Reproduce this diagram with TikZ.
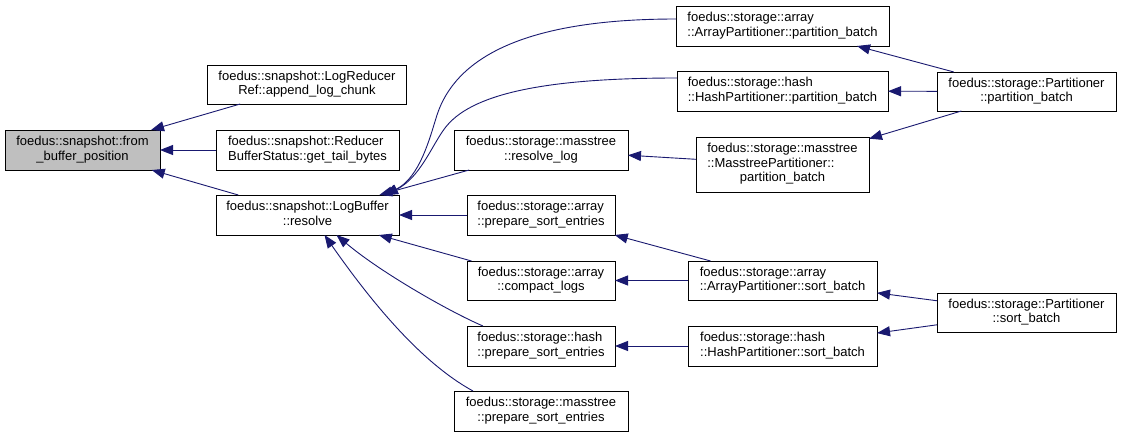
\documentclass[tikz,border=0pt]{standalone}
\usepackage{fontspec}
\setmainfont{Liberation Sans}
\usetikzlibrary{arrows.meta}
\definecolor{edgeblue}{HTML}{191970}
\definecolor{nodegray}{HTML}{BFBFBF}
\newcommand\dltwo[2]{\begin{tabular}{@{}l@{}}#1\\\multicolumn{1}{@{}c@{}}{#2}\end{tabular}}
\newcommand\dlthree[3]{\begin{tabular}{@{}l@{}}#1\\#2\\\multicolumn{1}{@{}c@{}}{#3}\end{tabular}}
\tikzset{
  fbox/.style={draw=black, line width=1pt, fill=white, inner sep=0pt, outer sep=0pt,
    font=\fontsize{13}{14.5}\selectfont, text=black},
  edge/.style={draw=edgeblue, line width=0.9pt, -{Triangle[length=13pt,width=10pt]}, fill=none},
}
\begin{document}
\begin{tikzpicture}[x=1pt,y=-1pt]
\useasboundingbox[fill=white] (0,0) rectangle (1121,437);
% column 0
\node[fbox, fill=nodegray, minimum width=155pt, minimum height=40pt] (A) at (82.5,150) {\dltwo{foedus::snapshot::from}{\_buffer\_position}};
% column 1
\node[fbox, minimum width=199pt, minimum height=39pt] (B1) at (307,84.5) {\dltwo{foedus::snapshot::LogReducer}{Ref::append\_log\_chunk}};
\node[fbox, minimum width=183pt, minimum height=40pt] (B2) at (307.5,150) {\dltwo{foedus::snapshot::Reducer}{BufferStatus::get\_tail\_bytes}};
\node[fbox, minimum width=183pt, minimum height=40pt] (B3) at (307.5,215) {\dltwo{foedus::snapshot::LogBuffer}{::resolve}};
% column 2
\node[fbox, minimum width=174pt, minimum height=40pt] (RL) at (541,150) {\dltwo{foedus::storage::masstree}{::resolve\_log}};
\node[fbox, minimum width=148pt, minimum height=40pt] (APS) at (541,215) {\dltwo{foedus::storage::array}{::prepare\_sort\_entries}};
\node[fbox, minimum width=148pt, minimum height=39pt] (CL) at (541,280.5) {\dltwo{foedus::storage::array}{::compact\_logs}};
\node[fbox, minimum width=148pt, minimum height=40pt] (HPS) at (541,346) {\dltwo{foedus::storage::hash}{::prepare\_sort\_entries}};
\node[fbox, minimum width=174pt, minimum height=40pt] (MPS) at (541,411) {\dltwo{foedus::storage::masstree}{::prepare\_sort\_entries}};
% column 3
\node[fbox, minimum width=213pt, minimum height=40pt] (C1) at (782.5,26) {\dltwo{foedus::storage::array}{::ArrayPartitioner::partition\_batch}};
\node[fbox, minimum width=211pt, minimum height=40pt] (C2) at (782.5,91) {\dltwo{foedus::storage::hash}{::HashPartitioner::partition\_batch}};
\node[fbox, minimum width=173pt, minimum height=55pt] (MP) at (782.5,164.5) {\dlthree{foedus::storage::masstree}{::MasstreePartitioner::}{partition\_batch}};
\node[fbox, minimum width=189pt, minimum height=39pt] (ASB) at (782.5,280.5) {\dltwo{foedus::storage::array}{::ArrayPartitioner::sort\_batch}};
\node[fbox, minimum width=189pt, minimum height=40pt] (HSB) at (782.5,346) {\dltwo{foedus::storage::hash}{::HashPartitioner::sort\_batch}};
% column 4
\node[fbox, minimum width=179pt, minimum height=39pt] (PP) at (1026.5,91.5) {\dltwo{foedus::storage::Partitioner}{::partition\_batch}};
\node[fbox, minimum width=179pt, minimum height=39pt] (PS) at (1026.5,312.5) {\dltwo{foedus::storage::Partitioner}{::sort\_batch}};
% edges
\draw[edge] (B1) -- (A);
\draw[edge] (B2) -- (A);
\draw[edge] (B3) -- (A);
\draw[edge] ([yshift=7pt]C1.west) .. controls (520,19) and (455,60) .. (437,115) .. controls (430,137) and (420,178) .. ([xshift=-15pt]B3.north east);
\draw[edge] ([yshift=13pt]C2.west) .. controls (540,78) and (470,95) .. (445,128) .. controls (432,145) and (420,178) .. ([xshift=-14pt]B3.north east);
\draw[edge] (RL) -- (B3);
\draw[edge] (APS) -- (B3);
\draw[edge] (CL) -- (B3);
\draw[edge] ([xshift=16pt]HPS.north west) .. controls (450,312) and (380,272) .. ([xshift=29pt]B3.south);
\draw[edge] ([xshift=19pt]MPS.north west) .. controls (420,362) and (370,300) .. ([xshift=17pt]B3.south);
\draw[edge] (MP) -- (RL);
\draw[edge] (ASB) -- (APS);
\draw[edge] (ASB) -- (CL);
\draw[edge] (HSB) -- (HPS);
\draw[edge] (PP) -- (C1);
\draw[edge] (PP) -- (C2);
\draw[edge] (PP) -- (MP);
\draw[edge] (PS) -- (ASB);
\draw[edge] (PS) -- (HSB);
\end{tikzpicture}
\end{document}
